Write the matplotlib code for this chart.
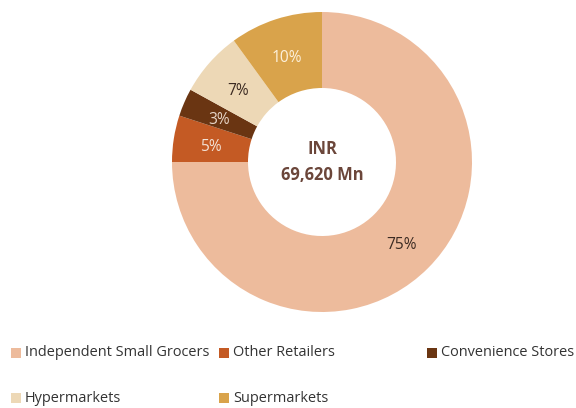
import matplotlib.pyplot as plt
from matplotlib.patches import Rectangle

plt.rcParams['font.family'] = ['Open Sans', 'DejaVu Sans']

# data
labels = ["Independent Small Grocers", "Other Retailers", "Convenience Stores",
          "Hypermarkets", "Supermarkets"]
shares = [75, 5, 3, 7, 10]
colors = ["#EDBB9C", "#C45A24", "#6A3512", "#EDD8B6", "#D9A34B"]
pct_colors = ["#3b2a22", "#f3e2d6", "#e8d6c8", "#3b2a22", "#fdf1dc"]
total_text = "INR\n69,620 Mn"

fig = plt.figure(figsize=(8, 408 / 72), dpi=72)
ax = fig.add_axes([0, 0, 1, 1])

H = 408
wedges, texts, autotexts = ax.pie(
    shares, colors=colors, startangle=90, counterclock=False,
    center=(322, H - 162), radius=150,
    wedgeprops=dict(width=76, linewidth=0),
    autopct=lambda p: f"{p:.0f}%", pctdistance=0.75,
    textprops=dict(fontsize=15.5),
)
for t, c in zip(autotexts, pct_colors):
    t.set_color(c)
    # labels sit a touch lower in the original
    x, y = t.get_position()
    t.set_position((x, y - 3))

ax.text(322, H - 162, total_text, ha="center", va="center", fontsize=16.5,
        fontweight="bold", color="#6b463a", linespacing=1.5)

# legend, drawn by hand to keep the uneven column spacing
legend_pos = [(11, 353), (219, 353), (427, 353), (11, 398), (219, 398)]
for (x, y), lab, col in zip(legend_pos, labels, colors):
    ax.add_patch(Rectangle((x, H - y - 5), 10, 10, color=col, lw=0))
    ax.text(x + 14, H - y, lab, ha="left", va="center", fontsize=14.5,
            color="#333333")

ax.set_xlim(0, 576)
ax.set_ylim(0, H)
ax.set_aspect("equal")
ax.axis("off")

fig.savefig("out.png", dpi=72)
